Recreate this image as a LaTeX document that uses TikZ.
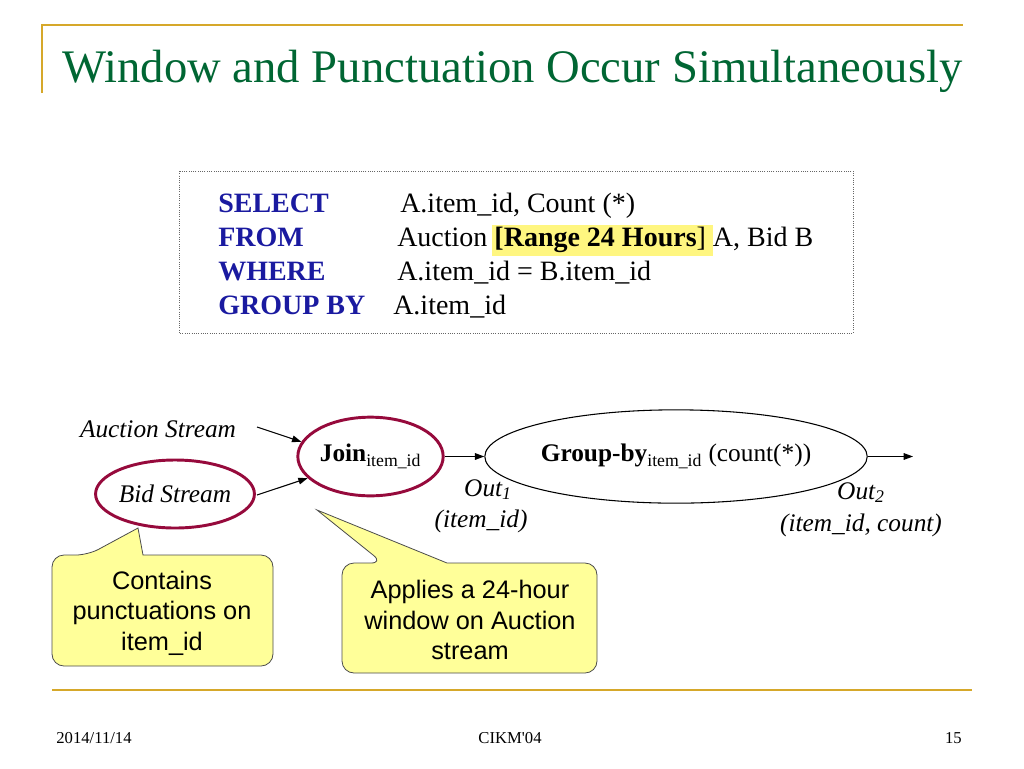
\documentclass[tikz,border=0pt]{standalone}
\usepackage{fontspec}
\setmainfont{Liberation Serif}
\newfontfamily\calloutfont{Liberation Sans}
\usetikzlibrary{shapes.geometric,arrows.meta,positioning}
\definecolor{titlegreen}{RGB}{0,102,51}
\definecolor{rulegold}{RGB}{214,168,42}
\definecolor{sqlblue}{RGB}{26,26,160}
\definecolor{opred}{RGB}{150,10,60}
\definecolor{noteyellow}{RGB}{255,255,153}
\definecolor{markyellow}{RGB}{255,246,128}
\tikzset{
  flow/.style={draw=black, line width=0.8pt, -{Triangle[length=7pt,width=5pt]}},
  opnode/.style={ellipse, draw=opred, line width=2.2pt, inner sep=0pt},
  keyword/.style={anchor=base west, inner sep=0pt, text=sqlblue,
    font=\fontsize{21}{25}\selectfont\bfseries},
  clause/.style={anchor=base west, inner sep=0pt, font=\fontsize{21}{25}\selectfont},
  notebox/.style={fill=noteyellow, draw=black!70, line width=0.6pt},
  notetext/.style={align=center, inner sep=0pt,
    font=\fontsize{19}{23}\selectfont\calloutfont},
  streamlabel/.style={inner sep=0pt, font=\fontsize{19}{23}\selectfont\itshape},
  footer/.style={inner sep=0pt, anchor=base, font=\fontsize{12.5}{14}\selectfont}
}
\begin{document}
\begin{tikzpicture}[x=0.75pt, y=-0.75pt]
  \useasboundingbox (0,0) rectangle (1024,768);

  % Slide frame
  \draw[rulegold, line width=1.9pt] (42,93) -- (42,25) -- (963,25);
  \draw[rulegold, line width=1.9pt] (52,690) -- (972,690);
  \node[anchor=base west, inner sep=0pt, text=titlegreen,
    font=\fontsize{35}{40}\selectfont] (title) at (62,82)
    {Window and Punctuation Occur Simultaneously};

  % Query
  \draw[densely dotted, draw=black!60, line width=0.7pt] (179,171) rectangle (853,333);
  \fill[markyellow] (492,225) rectangle (713,256);
  \node[keyword] (kselect) at (218,212) {SELECT};
  \node[keyword] (kfrom) at (218,246) {FROM};
  \node[keyword] (kwhere) at (218,280) {WHERE};
  \node[keyword] (kgroup) at (218,314) {GROUP BY};
  \node[clause] (cselect) at (400,212) {A.item\_id, Count (*)};
  \node[clause] (cfrom) at (397,246) {Auction \textbf{[Range 24 Hours}] A, Bid B};
  \node[clause] (cwhere) at (397,280) {A.item\_id = B.item\_id};
  \node[clause] (cgroup) at (393,314) {A.item\_id};

  % Operators
  \node[streamlabel] (auction) at (158,429) {Auction Stream};
  \node[opnode, streamlabel, minimum width=109pt, minimum height=51pt] (bid)
    at (175,494) {Bid Stream};
  \node[opnode, minimum width=109pt, minimum height=59pt,
    font=\fontsize{19}{23}\selectfont] (join) at (370.5,456.5)
    {\textbf{Join}\textsubscript{item\_id}};
  \node[ellipse, draw=black, line width=0.8pt, inner sep=0pt,
    minimum width=247.5pt, minimum height=70pt,
    font=\fontsize{19}{23}\selectfont] (groupby) at (676,456.5)
    {\textbf{Group-by}\textsubscript{item\_id} (count(*))};

  \coordinate (auctail) at (257,427);
  \coordinate (bidtail) at (257,495);
  \coordinate (out2end) at (913,456.5);
  \draw[flow] (auctail) -- (join.168);
  \draw[flow] (bidtail) -- (join.199);
  \draw[flow] (join) -- (groupby);
  \draw[flow] (groupby) -- (out2end);

  \node[streamlabel, anchor=base] (out1) at (488,496) {Out\textsubscript{1}};
  \node[streamlabel, anchor=base] (out1attr) at (481,527) {(item\_id)};
  \node[streamlabel, anchor=base] (out2) at (861,499) {Out\textsubscript{2}};
  \node[streamlabel, anchor=base] (out2attr) at (861,531) {(item\_id, count)};

  % Callouts
  \draw[notebox] (52,610) [rounded corners=9pt] |- (88,555) [sharp corners]
    -- (138,528) -- (143,555) [rounded corners=9pt] -| (273,610) |- (52,666) -- cycle;
  \node[notetext] (punctnote) at (162,613) {Contains\\punctuations on\\item\_id};
  \draw[notebox] (342,618) [rounded corners=9pt] |- (383,563) [sharp corners]
    -- (317,510) -- (447,563) [rounded corners=9pt] -| (597,618) |- (342,673) -- cycle;
  \node[notetext] (windownote) at (470,620) {Applies a 24-hour\\window on Auction\\stream};

  % Footer
  \node[footer] (date) at (94,743) {2014/11/14};
  \node[footer] (venue) at (510,743) {CIKM\textquotesingle04};
  \node[footer, anchor=base east] (page) at (962,743) {15};
\end{tikzpicture}
\end{document}
